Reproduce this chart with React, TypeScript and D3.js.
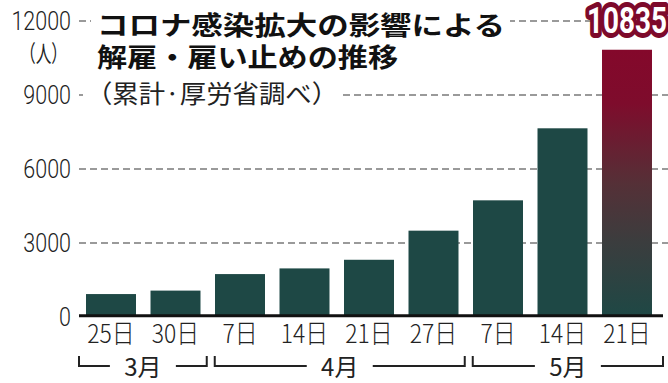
import React from 'react';
import * as d3 from 'd3';

const categories = ['25日', '30日', '7日', '14日', '21日', '27日', '7日', '14日', '21日'];
const values = [930, 1070, 1740, 1970, 2320, 3500, 4730, 7650, 10835];
const monthLabels = ['3月', '4月', '5月'];
const monthSpans: [number, number][] = [[0, 1], [2, 5], [6, 8]];
const yTicks = [0, 3000, 6000, 9000, 12000];
const titleLines = ['コロナ感染拡大の影響による', '解雇・雇い止めの推移'];
const sourceNote = '（累計·厚労省調べ）';
const unitLabel = '（人）';
const highlightLabel = '10835';

const W = 668;
const H = 383;
const TEAL = '#1e4845';
const RED = '#7d0a2b';
const JP = '"Noto Sans CJK JP", "Noto Sans", sans-serif';

export default function App() {
  const x = d3
    .scaleBand<number>()
    .domain(d3.range(categories.length))
    .range([78.75, 659.25])
    .paddingInner(0.225)
    .paddingOuter(0.1125);
  const y = d3.scaleLinear().domain([0, 12000]).range([317, 21]);
  const bw = x.bandwidth();
  const axisX0 = 79;
  const axisX1 = 663;
  const last = values.length - 1;

  const brackets = monthSpans.map(([a, b], i) => {
    let start = axisX0;
    let end = axisX1;
    if (i > 0) {
      const prevEnd = (x(monthSpans[i - 1][1]) as number) + bw;
      const boundary = (prevEnd + (x(a) as number)) / 2;
      start = boundary + 7;
    }
    if (i < monthSpans.length - 1) {
      const nextStart = x(monthSpans[i + 1][0]) as number;
      const boundary = ((x(b) as number) + bw + nextStart) / 2;
      end = boundary - 1;
    }
    return { start, end, mid: (start + end) / 2, label: monthLabels[i] };
  });

  const bracketY = 366;
  const tickTop = 356;

  return (
    <svg
      width={W}
      height={H}
      style={{ position: 'absolute', left: 0, top: 0, background: '#fff' }}
    >
      <defs>
        <linearGradient id="hl" x1="0" y1="0" x2="0" y2="1">
          <stop offset="0" stopColor="#84082b" />
          <stop offset="0.2" stopColor="#7e0c2c" />
          <stop offset="0.5" stopColor="#553037" />
          <stop offset="0.72" stopColor="#3b3d3e" />
          <stop offset="1" stopColor={TEAL} />
        </linearGradient>
      </defs>

      {/* gridlines */}
      {yTicks
        .filter((t) => t > 0)
        .map((t) => (
          <line
            key={t}
            x1={axisX0}
            x2={W}
            y1={y(t)}
            y2={y(t)}
            stroke="#7a7a7a"
            strokeWidth={1.5}
            strokeDasharray="7,4"
          />
        ))}

      {/* y tick labels */}
      {yTicks.map((t) => (
        <text
          key={t}
          transform={`translate(71,${y(t)}) scale(0.86,1)`}
          textAnchor="end"
          dominantBaseline="central"
          fontFamily="Roboto, sans-serif"
          fontWeight={300}
          fontSize={25}
          fill="#222"
        >
          {t}
        </text>
      ))}
      <text
        x={20}
        y={52}
        dominantBaseline="central"
        fontFamily={JP}
        fontSize={23}
        textLength={47}
        lengthAdjust="spacingAndGlyphs"
        fill="#222"
      >
        {unitLabel}
      </text>

      {/* title masks & title */}
      <rect x={91} y={6} width={419} height={35} fill="#fff" />
      <rect x={83} y={78} width={260} height={30} fill="#fff" />
      <text
        x={97}
        y={23.5}
        dominantBaseline="central"
        fontFamily={JP}
        fontWeight={700}
        fontSize={26}
        textLength={408}
        lengthAdjust="spacingAndGlyphs"
        fill="#111"
      >
        {titleLines[0]}
      </text>
      <text
        x={97}
        y={55.5}
        dominantBaseline="central"
        fontFamily={JP}
        fontWeight={700}
        fontSize={26}
        textLength={301}
        lengthAdjust="spacingAndGlyphs"
        fill="#111"
      >
        {titleLines[1]}
      </text>
      <text
        x={86}
        y={92}
        dominantBaseline="central"
        fontFamily={JP}
        fontSize={25}
        textLength={252}
        lengthAdjust="spacingAndGlyphs"
        fill="#222"
      >
        {sourceNote}
      </text>

      {/* bars */}
      {values.map((v, i) => (
        <rect
          key={i}
          x={x(i)}
          y={y(v)}
          width={bw}
          height={y(0) - y(v)}
          fill={i === last ? 'url(#hl)' : TEAL}
        />
      ))}

      {/* highlight label */}
      <text
        x={(x(last) as number) + bw / 2}
        y={y(values[last]) - 17}
        textAnchor="middle"
        fontFamily="Roboto, sans-serif"
        fontWeight={700}
        fontSize={36}
        textLength={80}
        lengthAdjust="spacingAndGlyphs"
        fill="#fff"
        stroke={RED}
        strokeWidth={10}
        strokeLinejoin="round"
        paintOrder="stroke"
      >
        {highlightLabel}
      </text>

      {/* x axis */}
      <line x1={axisX0} x2={axisX1} y1={y(0) - 1.3} y2={y(0) - 1.3} stroke="#111" strokeWidth={3} />

      {/* x labels */}
      {categories.map((c, i) => (
        <text
          key={i}
          transform={`translate(${(x(i) as number) + bw / 2},${332}) scale(0.88,1)`}
          textAnchor="middle"
          dominantBaseline="central"
          fontFamily={JP}
          fontWeight={300}
          fontSize={26}
          fill="#222"
        >
          {c}
        </text>
      ))}

      {/* month brackets */}
      {brackets.map((b) => (
        <g key={b.label} stroke="#222" strokeWidth={2} fill="none">
          <path d={`M${b.start},${tickTop}V${bracketY}H${b.mid - 33}`} />
          <path d={`M${b.mid + 33},${bracketY}H${b.end}V${tickTop}`} />
        </g>
      ))}
      {brackets.map((b) => (
        <text
          key={b.label + 't'}
          x={b.mid}
          y={365}
          textAnchor="middle"
          dominantBaseline="central"
          fontFamily={JP}
          fontSize={24}
          fill="#222"
        >
          {b.label}
        </text>
      ))}
    </svg>
  );
}
